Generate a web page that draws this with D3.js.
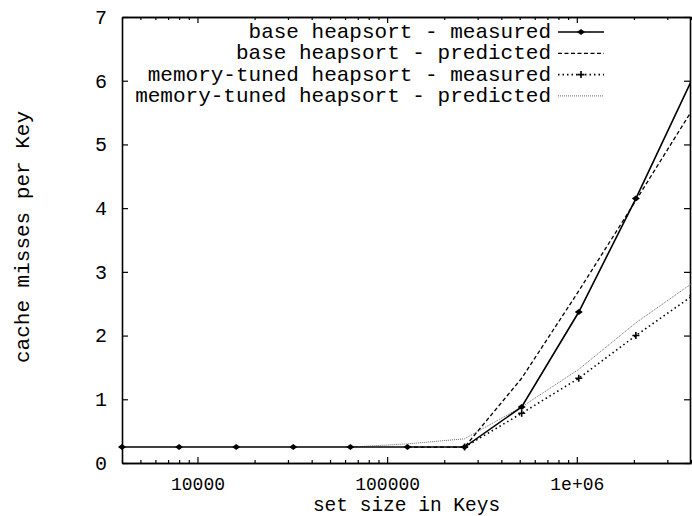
<!DOCTYPE html>
<meta charset="utf-8">
<script src="https://d3js.org/d3.v7.min.js"></script>
<style>
body { margin: 0; background: #fff; }
text { fill: #000; font-family: "Liberation Mono", "DejaVu Sans Mono", monospace; }
.axis path, .axis line { stroke: #000; stroke-width: 1.6px; }
.axis line { stroke-width: 1.2px; }
</style>
<body>
<div id="chart"></div>
<script>
// data
var sizes = [4000, 8000, 16000, 32000, 64000, 128000, 256000, 512000, 1024000, 2048000, 4096000];
var baseMeasured = [0.25, 0.25, 0.25, 0.25, 0.25, 0.25, 0.25, 0.88, 2.37, 4.15, 6.05];
var basePredictedSizes = [128000, 256000, 512000, 1024000, 2048000, 4096000];
var basePredicted = [0.25, 0.25, 1.33, 2.7, 4.12, 5.56];
var tunedMeasuredSizes = [256000, 512000, 1024000, 2048000, 4096000];
var tunedMeasured = [0.25, 0.78, 1.33, 2.0, 2.63];
var tunedPredictedSizes = [64000, 128000, 256000, 512000, 1024000, 2048000, 4096000];
var tunedPredicted = [0.25, 0.3, 0.38, 0.88, 1.47, 2.2, 2.83];
var legendLabels = ['base heapsort - measured', 'base heapsort - predicted',
    'memory-tuned heapsort - measured', 'memory-tuned heapsort - predicted'];
var yTicks = [0, 1, 2, 3, 4, 5, 6, 7];
var xMajor = [10000, 100000, 1000000];
var xLabels = ['10000', '100000', '1e+06'];

var W = 692, H = 516;
var margin = {top: 17, right: 1, bottom: 53, left: 122};
var w = W - margin.left - margin.right;
var h = H - margin.top - margin.bottom;

var svg = d3.select('#chart').append('svg')
    .attr('width', W).attr('height', H);

var x = d3.scaleLog().domain([4000, 4000000]).range([margin.left, margin.left + w]);
var y = d3.scaleLinear().domain([0, 7]).range([margin.top + h, margin.top]);

// minor log ticks
var xMinor = [];
[1000, 10000, 100000, 1000000].forEach(function(d) {
    for (var k = 2; k <= 9; k++) {
        var v = d * k;
        if (v >= 4000 && v <= 4000000 && xMajor.indexOf(v) < 0) xMinor.push(v);
    }
});

// bottom axis
svg.append('g').attr('class', 'axis')
    .attr('transform', 'translate(0,' + (margin.top + h) + ')')
    .call(d3.axisBottom(x).tickValues(xMinor).tickSize(-3).tickSizeOuter(0).tickFormat(''));
svg.append('g').attr('class', 'axis')
    .attr('transform', 'translate(0,' + (margin.top + h) + ')')
    .call(d3.axisBottom(x).tickValues(xMajor).tickSize(-6).tickSizeOuter(0).tickPadding(14)
        .tickFormat(function(d, i) { return xLabels[i]; }))
    .selectAll('text').style('font-size', '18px');

// top axis
svg.append('g').attr('class', 'axis')
    .attr('transform', 'translate(0,' + margin.top + ')')
    .call(d3.axisTop(x).tickValues(xMinor).tickSize(-3).tickSizeOuter(0).tickFormat(''));
svg.append('g').attr('class', 'axis')
    .attr('transform', 'translate(0,' + margin.top + ')')
    .call(d3.axisTop(x).tickValues(xMajor).tickSize(-6).tickSizeOuter(0).tickFormat(''));

// left axis
svg.append('g').attr('class', 'axis')
    .attr('transform', 'translate(' + margin.left + ',0)')
    .call(d3.axisLeft(y).tickValues(yTicks).tickSize(-6).tickSizeOuter(0).tickPadding(15)
        .tickFormat(d3.format('d')))
    .selectAll('text').style('font-size', '20px');

// right axis
svg.append('g').attr('class', 'axis')
    .attr('transform', 'translate(' + (margin.left + w - 1) + ',0)')
    .call(d3.axisRight(y).tickValues(yTicks).tickSize(-6).tickSizeOuter(0).tickFormat(''));

// axis titles
svg.append('text')
    .text('set size in Keys')
    .attr('text-anchor', 'middle')
    .attr('x', margin.left + w / 2)
    .attr('y', 511)
    .style('font-size', '19.5px');

svg.append('text')
    .text('cache misses per Key')
    .attr('transform', 'rotate(-90)')
    .attr('text-anchor', 'middle')
    .attr('x', -(margin.top + h / 2) + 3)
    .attr('y', 29)
    .style('font-size', '21px');

// clip for series
svg.append('clipPath').attr('id', 'clip')
    .append('rect')
    .attr('x', margin.left).attr('y', margin.top)
    .attr('width', w).attr('height', h);

var plot = svg.append('g').attr('clip-path', 'url(#clip)');

var line = d3.line()
    .x(function(d) { return x(d[0]); })
    .y(function(d) { return y(d[1]); });

function pairs(xs, ys) { return xs.map(function(v, i) { return [v, ys[i]]; }); }

var styles = [
    {stroke: '#000', width: 1.6, dash: null},
    {stroke: '#000', width: 1.3, dash: '4,2.5'},
    {stroke: '#000', width: 1.6, dash: '1.5,3'},
    {stroke: '#666', width: 1, dash: '1,1'}
];

var diamond = 'M-4,0L0,-3L4,0L0,3Z';
var plus = 'M-3.5,0H3.5M0,-3.5V3.5';

// memory-tuned predicted
plot.append('path').datum(pairs(tunedPredictedSizes, tunedPredicted))
    .attr('d', line).attr('fill', 'none')
    .attr('stroke', styles[3].stroke).attr('stroke-width', styles[3].width)
    .attr('stroke-dasharray', styles[3].dash);

// memory-tuned measured
plot.append('path').datum(pairs(tunedMeasuredSizes, tunedMeasured))
    .attr('d', line).attr('fill', 'none')
    .attr('stroke', styles[2].stroke).attr('stroke-width', styles[2].width)
    .attr('stroke-dasharray', styles[2].dash);
plot.selectAll('.plus').data(pairs(tunedMeasuredSizes, tunedMeasured)).enter()
    .append('path').attr('class', 'plus')
    .attr('d', plus).attr('stroke', '#000').attr('stroke-width', 1.6)
    .attr('transform', function(d) { return 'translate(' + x(d[0]) + ',' + y(d[1]) + ')'; });

// base predicted
plot.append('path').datum(pairs(basePredictedSizes, basePredicted))
    .attr('d', line).attr('fill', 'none')
    .attr('stroke', styles[1].stroke).attr('stroke-width', styles[1].width)
    .attr('stroke-dasharray', styles[1].dash);

// base measured
plot.append('path').datum(pairs(sizes, baseMeasured))
    .attr('d', line).attr('fill', 'none')
    .attr('stroke', styles[0].stroke).attr('stroke-width', styles[0].width);

// diamonds drawn unclipped so the left-edge marker shows
svg.selectAll('.dia').data(pairs(sizes, baseMeasured).filter(function(d) { return d[0] <= 4000000; })).enter()
    .append('path').attr('class', 'dia')
    .attr('d', diamond).attr('fill', '#000')
    .attr('transform', function(d) { return 'translate(' + x(d[0]) + ',' + y(d[1]) + ')'; });

// legend
var legendRight = 551, sampleX0 = 558, sampleX1 = 604, legendY = 32, legendStep = 21.3;
var legend = svg.selectAll('.legend').data(legendLabels).enter()
    .append('g').attr('class', 'legend')
    .attr('transform', function(d, i) { return 'translate(0,' + (legendY + i * legendStep) + ')'; });

legend.append('text')
    .attr('x', legendRight).attr('y', 6)
    .attr('text-anchor', 'end')
    .style('font-size', '21px')
    .text(function(d) { return d; });

legend.append('line')
    .attr('x1', sampleX0).attr('x2', sampleX1).attr('y1', 0).attr('y2', 0)
    .attr('stroke', function(d, i) { return styles[i].stroke; })
    .attr('stroke-width', function(d, i) { return styles[i].width; })
    .attr('stroke-dasharray', function(d, i) { return styles[i].dash; });

legend.filter(function(d, i) { return i === 0; }).append('path')
    .attr('d', diamond).attr('fill', '#000')
    .attr('transform', 'translate(' + ((sampleX0 + sampleX1) / 2) + ',0)');
legend.filter(function(d, i) { return i === 2; }).append('path')
    .attr('d', plus).attr('stroke', '#000').attr('stroke-width', 1.6)
    .attr('transform', 'translate(' + ((sampleX0 + sampleX1) / 2) + ',0)');
</script>
</body>
</html>
